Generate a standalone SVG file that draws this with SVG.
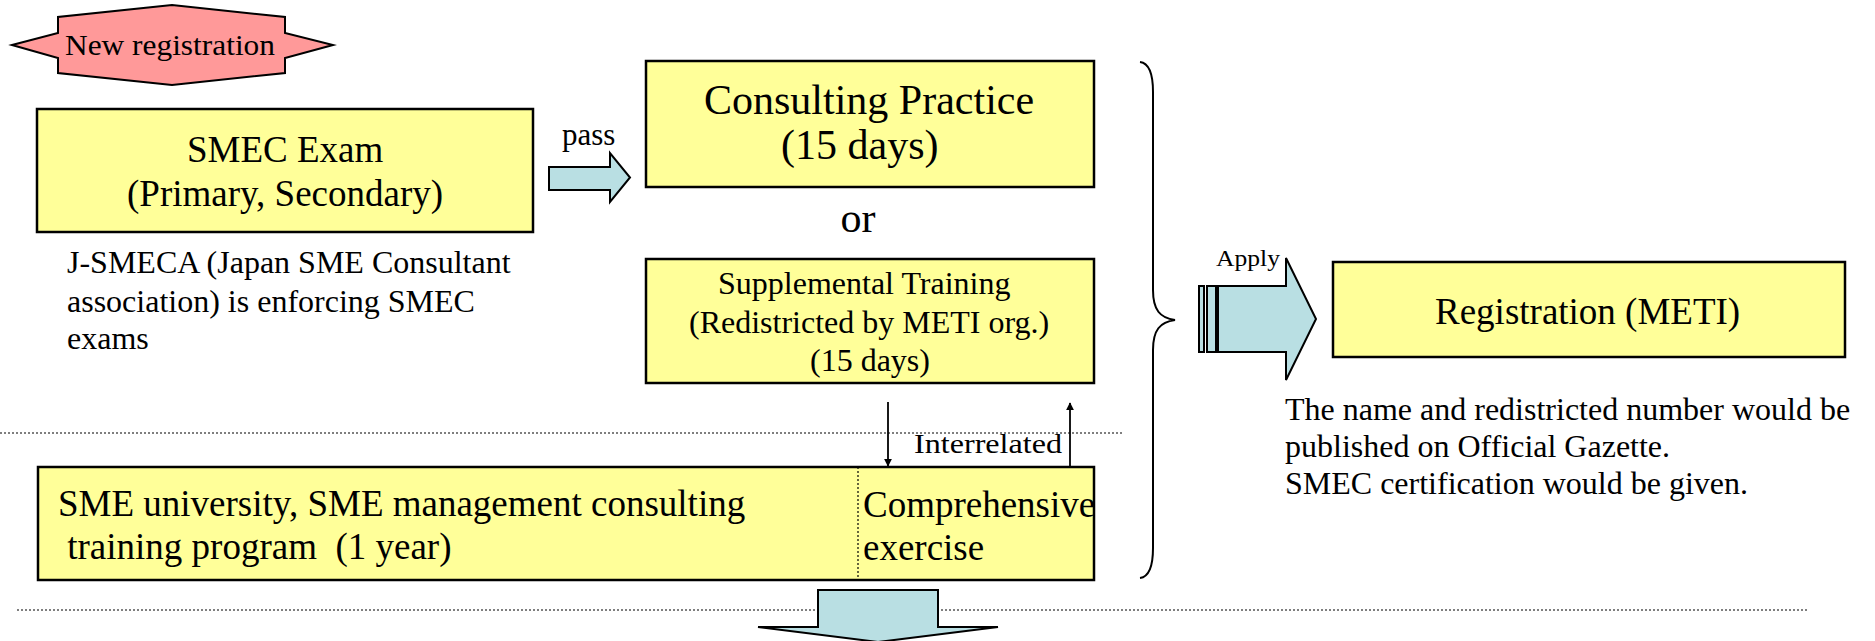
<svg xmlns="http://www.w3.org/2000/svg" width="1875" height="641" viewBox="0 0 1875 641">
<style>
  text { font-family: "Liberation Serif", "Times New Roman", serif; fill: #000; }
  .box { fill: #FFFF99; stroke: #000; stroke-width: 2.5; }
  .blk { fill: #B9DFE3; stroke: #000; stroke-width: 2; }
  .dot { stroke: #555; stroke-width: 1.5; stroke-dasharray: 2 2; fill: none; }
  .ln { stroke: #000; stroke-width: 1.8; fill: none; }
  .f37 { font-size: 37px; }
  .f32 { font-size: 32px; }
  .f42 { font-size: 42px; }
</style>
<defs>
  <marker id="ah" viewBox="0 0 10 10" refX="9" refY="5" markerWidth="8" markerHeight="8" markerUnits="userSpaceOnUse" orient="auto">
    <path d="M0,0 L10,5 L0,10 Z" fill="#000"/>
  </marker>
</defs>

<g id="separators">
  <line class="dot" x1="0" y1="433" x2="1124" y2="433"/>
  <line class="dot" x1="17" y1="610" x2="1808" y2="610"/>
</g>

<g id="new-registration">
  <polygon points="12,45 58,33 58,17 172,5 285,17 285,33 333,45 285,58 285,73 172,85 58,73 58,58" fill="#FF9999" stroke="#000" stroke-width="2"/>
  <text x="65" y="55" font-size="30" textLength="210" lengthAdjust="spacingAndGlyphs">New registration</text>
</g>

<g id="smec-exam">
  <rect class="box" x="37" y="109" width="496" height="123"/>
  <text class="f37" x="187" y="162">SMEC Exam</text>
  <text class="f37" x="127" y="206">(Primary, Secondary)</text>
</g>

<g id="jsmeca-note">
  <text class="f32" x="67" y="273">J-SMECA (Japan SME Consultant</text>
  <text class="f32" x="67" y="312">association) is enforcing SMEC</text>
  <text class="f32" x="67" y="349">exams</text>
</g>

<g id="consulting-practice">
  <rect class="box" x="646" y="61" width="448" height="126"/>
  <text class="f42" x="704" y="114">Consulting Practice</text>
  <text class="f42" x="781" y="159">(15 days)</text>
</g>

<g id="or-label">
  <text class="f42" x="858" y="232" text-anchor="middle">or</text>
</g>

<g id="supplemental-training">
  <rect class="box" x="646" y="259" width="448" height="124"/>
  <text class="f32" x="718" y="294">Supplemental Training</text>
  <text class="f32" x="689" y="333">(Redistricted by METI org.)</text>
  <text class="f32" x="810" y="371">(15 days)</text>
</g>

<g id="sme-university">
  <rect class="box" x="38" y="467" width="1056" height="113" stroke-width="3"/>
  <line x1="858" y1="467" x2="858" y2="580" stroke="#000" stroke-width="1.2" stroke-dasharray="2 2"/>
  <text class="f37" x="58" y="516">SME university, SME management consulting</text>
  <text class="f37" x="58" y="559" xml:space="preserve"> training program  (1 year)</text>
  <text class="f37" x="863" y="517">Comprehensive</text>
  <text class="f37" x="863" y="560">exercise</text>
</g>

<g id="registration">
  <rect class="box" x="1333" y="262" width="512" height="95"/>
  <text class="f37" x="1435" y="324">Registration (METI)</text>
</g>

<g id="registration-note">
  <text class="f32" x="1285" y="420">The name and redistricted number would be</text>
  <text class="f32" x="1285" y="457">published on Official Gazette.</text>
  <text class="f32" x="1285" y="494">SMEC certification would be given.</text>
</g>

<g id="connectors">
  <path class="blk" d="M549,167 L610,167 L610,153 L630,177.5 L610,202 L610,190 L549,190 Z"/>
  <text x="562" y="145" font-size="31">pass</text>

  <line class="ln" x1="888" y1="402" x2="888" y2="466" marker-end="url(#ah)"/>
  <line class="ln" x1="1070" y1="467" x2="1070" y2="403" marker-end="url(#ah)"/>
  <text x="914" y="453" font-size="28" textLength="148" lengthAdjust="spacingAndGlyphs">Interrelated</text>

  <path d="M1140,62 C1148,63 1153,72 1153,92 L1153,290 C1153,310 1160,318 1175,320 C1160,322 1153,330 1153,350 L1153,548 C1153,568 1148,577 1140,578" fill="none" stroke="#000" stroke-width="2"/>

  <rect class="blk" x="1199" y="286" width="5" height="66" stroke-width="1.5"/>
  <rect class="blk" x="1207" y="286" width="9" height="66" stroke-width="1.5"/>
  <path class="blk" d="M1218,286 L1286,286 L1286,258 L1316,319 L1286,380 L1286,352 L1218,352 Z"/>
  <text x="1216" y="266" font-size="23" textLength="64" lengthAdjust="spacingAndGlyphs">Apply</text>

  <path class="blk" d="M818,590 L938,590 L938,627 L998,627 L878,642 L758,627 L818,627 Z"/>
</g>
</svg>
